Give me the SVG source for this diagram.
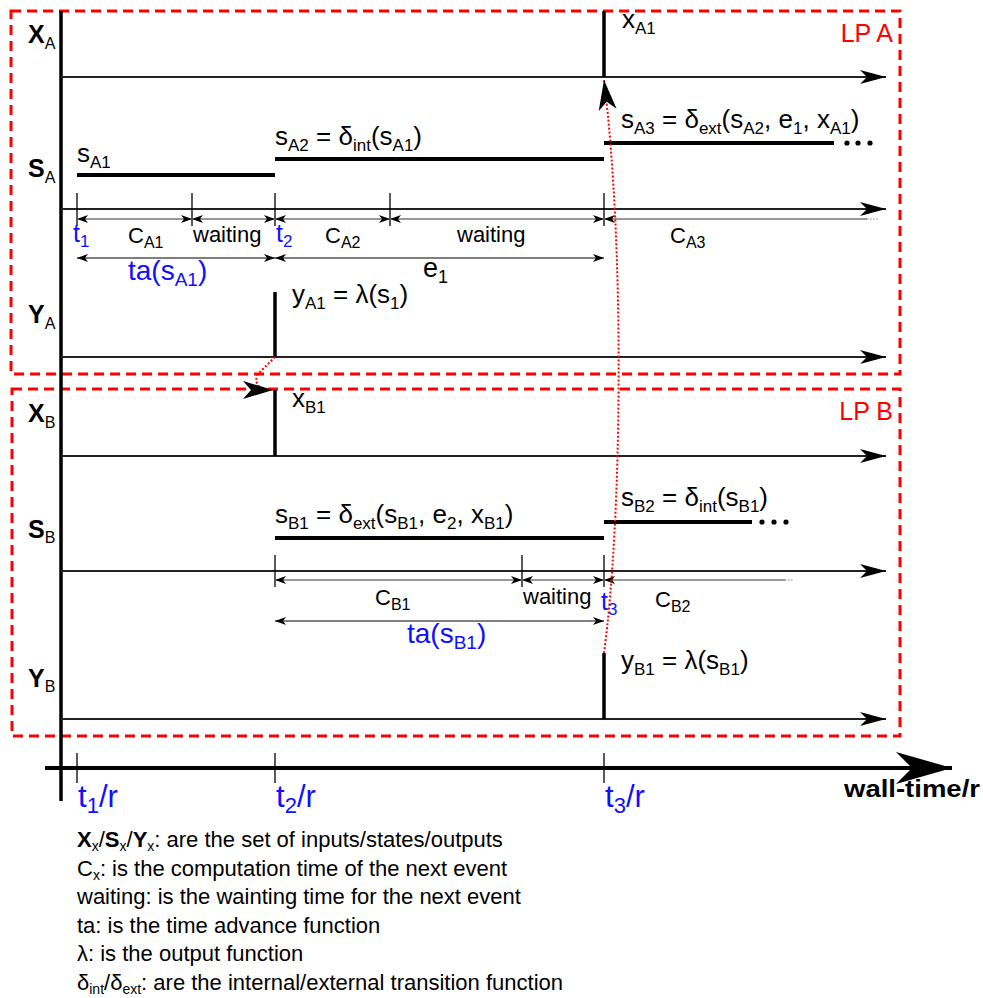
<svg xmlns="http://www.w3.org/2000/svg" width="983" height="998" viewBox="0 0 983 998">
<style>
text{font-family:"Liberation Sans",Arial,sans-serif;fill:#000}
.m{font-size:26px}
.d{font-size:22px}
.s{font-size:17px}
.sd{font-size:16px}
.lab{font-size:25px;font-weight:bold}
.ls{font-size:16px;font-weight:normal}
.blue{fill:#1010ff}
.bt{font-size:25px}
.red{fill:#ff0000;font-size:25px}
.leg{font-size:22px}
.lsub{font-size:14px}
.tl{stroke:#222;stroke-width:1.8;fill:none}
.axis{stroke:#000;stroke-width:3.5}
.bar{stroke:#000;stroke-width:4}
.vbar{stroke:#000;stroke-width:3.5}
.tick{stroke:#000;stroke-width:1.3}
.dim{stroke:#777;stroke-width:1.5;fill:none}
.dot{stroke:#aaa;stroke-width:1.5;stroke-dasharray:1.5 1.5}
.span{stroke:#000;stroke-width:1.2;fill:none}
.lp{fill:none;stroke:#ff0000;stroke-width:3;stroke-dasharray:10 6}
.msg{fill:none;stroke:#ff0000;stroke-width:2;stroke-dasharray:2 2}
</style>
<defs>
<marker id="ah" markerUnits="userSpaceOnUse" viewBox="-28 -10 30 20" markerWidth="30" markerHeight="20" refX="0" refY="0" orient="auto"><path d="M0,0 L-26,-7 L-19,0 L-26,7 Z" fill="#000"/></marker>
<marker id="am" markerUnits="userSpaceOnUse" viewBox="-32 -11 34 22" markerWidth="34" markerHeight="22" refX="0" refY="0" orient="auto"><path d="M0,0 L-30,-9 L-22,0 L-30,9 Z" fill="#000"/></marker>
<marker id="big" markerUnits="userSpaceOnUse" viewBox="-58 -18 60 36" markerWidth="60" markerHeight="36" refX="0" refY="0" orient="auto"><path d="M0,0 L-56,-16 L-40,0 L-56,16 Z" fill="#000"/></marker>
<marker id="ds" markerUnits="userSpaceOnUse" viewBox="-13 -6 14 12" markerWidth="14" markerHeight="12" refX="0" refY="0" orient="auto-start-reverse"><path d="M0,0 L-11,-4 L-8,0 L-11,4 Z" fill="#000"/></marker>
</defs>

<g id="lpA">
<rect class="lp" x="11" y="11" width="889" height="363"/>
<text class="red" x="893" y="42" text-anchor="end">LP A</text>
</g>
<g id="lpB">
<rect class="lp" x="12" y="389" width="888" height="347"/>
<text class="red" x="893" y="420" text-anchor="end">LP B</text>
</g>

<g id="axes">
<line class="axis" x1="61" y1="11" x2="61" y2="801"/>
<line stroke="#000" stroke-width="4" x1="45" y1="768" x2="952" y2="768" marker-end="url(#big)"/>
<line class="tick" x1="77" y1="753" x2="77" y2="783"/>
<line class="tick" x1="275" y1="753" x2="275" y2="783"/>
<line class="tick" x1="604" y1="753" x2="604" y2="783"/>
<text class="blue" font-size="31" x="78" y="807">t<tspan font-size="22" dy="6">1</tspan><tspan dy="-6">/r</tspan></text>
<text class="blue" font-size="31" x="276" y="807">t<tspan font-size="22" dy="6">2</tspan><tspan dy="-6">/r</tspan></text>
<text class="blue" font-size="31" x="605" y="807">t<tspan font-size="22" dy="6">3</tspan><tspan dy="-6">/r</tspan></text>
<text x="980" y="797" text-anchor="end" font-size="24" font-weight="bold" textLength="136" lengthAdjust="spacingAndGlyphs">wall-time/r</text>
</g>

<g id="laneXA">
<text class="lab" x="28" y="43">X<tspan class="ls" dy="6">A</tspan></text>
<line class="tl" x1="61" y1="77" x2="886" y2="77" marker-end="url(#ah)"/>
<line class="vbar" x1="604" y1="11" x2="604" y2="77"/>
<text class="m" x="622" y="28">x<tspan class="s" dy="6">A1</tspan></text>
</g>

<g id="laneSA">
<text class="lab" x="28" y="177">S<tspan class="ls" dy="6">A</tspan></text>
<line class="bar" x1="77" y1="175" x2="275" y2="175"/>
<line class="bar" x1="275" y1="159" x2="604" y2="159"/>
<line class="bar" x1="604" y1="143" x2="834" y2="143"/>
<circle cx="847" cy="143" r="2.6"/><circle cx="858" cy="143" r="2.6"/><circle cx="870" cy="143" r="2.6"/>
<text class="m" x="77" y="162">s<tspan class="s" dy="6">A1</tspan></text>
<text class="m" x="275" y="145">s<tspan class="s" dy="6">A2</tspan><tspan dy="-6"> = δ</tspan><tspan class="s" dy="6">int</tspan><tspan dy="-6">(s</tspan><tspan class="s" dy="6">A1</tspan><tspan dy="-6">)</tspan></text>
<text class="m" x="621" y="128">s<tspan class="s" dy="6">A3</tspan><tspan dy="-6"> = δ</tspan><tspan class="s" dy="6">ext</tspan><tspan dy="-6">(s</tspan><tspan class="s" dy="6">A2</tspan><tspan dy="-6">, e</tspan><tspan class="s" dy="6">1</tspan><tspan dy="-6">, x</tspan><tspan class="s" dy="6">A1</tspan><tspan dy="-6">)</tspan></text>
<line class="tl" x1="61" y1="209" x2="886" y2="209" marker-end="url(#ah)"/>
<line class="tick" x1="77" y1="193" x2="77" y2="226"/>
<line class="tick" x1="192" y1="193" x2="192" y2="226"/>
<line class="tick" x1="275" y1="193" x2="275" y2="226"/>
<line class="tick" x1="390" y1="193" x2="390" y2="226"/>
<line class="tick" x1="604" y1="193" x2="604" y2="226"/>
<line class="dim" x1="77" y1="219" x2="192" y2="219" marker-start="url(#ds)" marker-end="url(#ds)"/>
<line class="dim" x1="192" y1="219" x2="275" y2="219" marker-start="url(#ds)" marker-end="url(#ds)"/>
<line class="dim" x1="275" y1="219" x2="390" y2="219" marker-start="url(#ds)" marker-end="url(#ds)"/>
<line class="dim" x1="390" y1="219" x2="604" y2="219" marker-start="url(#ds)" marker-end="url(#ds)"/>
<line class="dim" x1="604" y1="219" x2="867" y2="219" marker-start="url(#ds)"/>
<line class="dot" x1="867" y1="219" x2="878" y2="219"/>
<text class="bt blue" x="73" y="242">t<tspan class="s" dy="5">1</tspan></text>
<text class="d" x="128" y="243">C<tspan class="sd" dy="5">A1</tspan></text>
<text class="d" x="193" y="242">waiting</text>
<text class="bt blue" x="276" y="242">t<tspan class="s" dy="5">2</tspan></text>
<text class="d" x="325" y="243">C<tspan class="sd" dy="5">A2</tspan></text>
<text class="d" x="457" y="242">waiting</text>
<text class="d" x="670" y="243">C<tspan class="sd" dy="5">A3</tspan></text>
<line class="span" x1="77" y1="258" x2="275" y2="258" marker-start="url(#ds)" marker-end="url(#ds)"/>
<line class="span" x1="275" y1="258" x2="604" y2="258" marker-start="url(#ds)" marker-end="url(#ds)"/>
<text class="blue" font-size="28" x="128" y="280">ta(s<tspan font-size="19" dy="6">A1</tspan><tspan dy="-6">)</tspan></text>
<text font-size="27" x="423" y="277">e<tspan font-size="18" dy="6">1</tspan></text>
</g>

<g id="laneYA">
<text class="lab" x="28" y="323">Y<tspan class="ls" dy="6">A</tspan></text>
<line class="tl" x1="61" y1="357" x2="886" y2="357" marker-end="url(#ah)"/>
<line class="vbar" x1="275" y1="292" x2="275" y2="357"/>
<text class="m" x="292" y="303">y<tspan class="s" dy="6">A1</tspan><tspan dy="-6"> = λ(s</tspan><tspan class="s" dy="6">1</tspan><tspan dy="-6">)</tspan></text>
</g>

<g id="laneXB">
<text class="lab" x="28" y="422">X<tspan class="ls" dy="6">B</tspan></text>
<line class="tl" x1="61" y1="456" x2="886" y2="456" marker-end="url(#ah)"/>
<line class="vbar" x1="275" y1="390" x2="275" y2="456"/>
<text class="m" x="292" y="407">x<tspan class="s" dy="6">B1</tspan></text>
</g>

<g id="laneSB">
<text class="lab" x="28" y="538">S<tspan class="ls" dy="5">B</tspan></text>
<line class="bar" x1="275" y1="538" x2="604" y2="538"/>
<line class="bar" x1="604" y1="522" x2="752" y2="522"/>
<circle cx="762" cy="522" r="2.6"/><circle cx="774" cy="522" r="2.6"/><circle cx="786" cy="522" r="2.6"/>
<text class="m" x="275" y="523">s<tspan class="s" dy="6">B1</tspan><tspan dy="-6"> = δ</tspan><tspan class="s" dy="6">ext</tspan><tspan dy="-6">(s</tspan><tspan class="s" dy="6">B1</tspan><tspan dy="-6">, e</tspan><tspan class="s" dy="6">2</tspan><tspan dy="-6">, x</tspan><tspan class="s" dy="6">B1</tspan><tspan dy="-6">)</tspan></text>
<text class="m" x="621" y="506">s<tspan class="s" dy="6">B2</tspan><tspan dy="-6"> = δ</tspan><tspan class="s" dy="6">int</tspan><tspan dy="-6">(s</tspan><tspan class="s" dy="6">B1</tspan><tspan dy="-6">)</tspan></text>
<line class="tl" x1="61" y1="571" x2="886" y2="571" marker-end="url(#ah)"/>
<line class="tick" x1="275" y1="555" x2="275" y2="587"/>
<line class="tick" x1="522" y1="555" x2="522" y2="587"/>
<line class="tick" x1="604" y1="555" x2="604" y2="587"/>
<line class="dim" x1="275" y1="580" x2="522" y2="580" marker-start="url(#ds)" marker-end="url(#ds)"/>
<line class="dim" x1="522" y1="580" x2="604" y2="580" marker-start="url(#ds)" marker-end="url(#ds)"/>
<line class="dim" x1="604" y1="580" x2="785" y2="580" marker-start="url(#ds)"/>
<line class="dot" x1="785" y1="580" x2="794" y2="580"/>
<text class="d" x="375" y="605">C<tspan class="sd" dy="5">B1</tspan></text>
<text class="d" x="523" y="604">waiting</text>
<text class="bt blue" x="601" y="610">t<tspan class="s" dy="5">3</tspan></text>
<text class="d" x="655" y="607">C<tspan class="sd" dy="5">B2</tspan></text>
<line class="span" x1="275" y1="621" x2="604" y2="621" marker-start="url(#ds)" marker-end="url(#ds)"/>
<text class="blue" font-size="28" x="407" y="643">ta(s<tspan font-size="19" dy="6">B1</tspan><tspan dy="-6">)</tspan></text>
</g>

<g id="laneYB">
<text class="lab" x="28" y="687">Y<tspan class="ls" dy="5">B</tspan></text>
<line class="tl" x1="61" y1="719" x2="886" y2="719" marker-end="url(#ah)"/>
<line class="vbar" x1="604" y1="653" x2="604" y2="719"/>
<text class="m" x="621" y="669">y<tspan class="s" dy="6">B1</tspan><tspan dy="-6"> = λ(s</tspan><tspan class="s" dy="6">B1</tspan><tspan dy="-6">)</tspan></text>
</g>

<g id="connectors">
<path class="msg" d="M275,357 L257,375 Q253,390 273,390" marker-end="url(#am)"/>
<path class="msg" d="M604,653 C622,520 625,250 604,80" marker-end="url(#am)"/>
</g>

<g id="legend">
<text class="leg" x="77" y="847"><tspan font-weight="bold">X</tspan><tspan class="lsub" dy="4">x</tspan><tspan dy="-4">/</tspan><tspan font-weight="bold">S</tspan><tspan class="lsub" dy="4">x</tspan><tspan dy="-4">/</tspan><tspan font-weight="bold">Y</tspan><tspan class="lsub" dy="4">x</tspan><tspan dy="-4">: are the set of inputs/states/outputs</tspan></text>
<text class="leg" x="77" y="876">C<tspan class="lsub" dy="4">x</tspan><tspan dy="-4">: is the computation time of the next event</tspan></text>
<text class="leg" x="77" y="904">waiting: is the wainting time for the next event</text>
<text class="leg" x="77" y="933">ta: is the time advance function</text>
<text class="leg" x="77" y="961">λ: is the output function</text>
<text class="leg" x="77" y="990">δ<tspan class="lsub" dy="4">int</tspan><tspan dy="-4">/δ</tspan><tspan class="lsub" dy="4">ext</tspan><tspan dy="-4">: are the internal/external transition function</tspan></text>
</g>
</svg>
